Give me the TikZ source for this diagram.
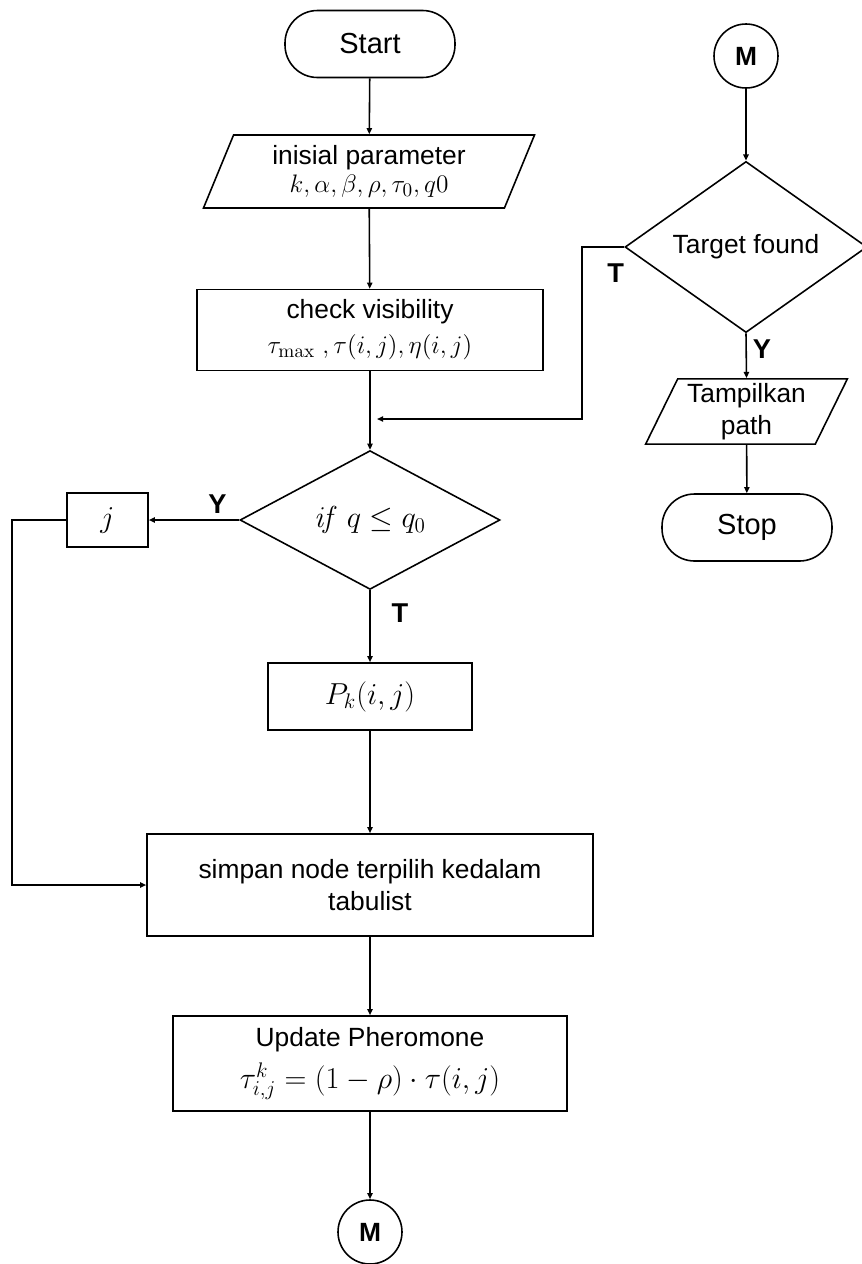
\documentclass[tikz,border=0pt]{standalone}
\usepackage{amsmath}
\usepackage[no-math]{fontspec}
\setmainfont{Liberation Sans}
\usetikzlibrary{arrows.meta, shapes.geometric, positioning, calc}

\begin{document}
\begin{tikzpicture}[font=\fontsize{15}{18}\selectfont, line width=0.9pt,
    arr/.style={-{Triangle[length=3.5pt,width=3pt]}},
    term/.style={draw, rectangle, rounded corners=0.65cm, minimum width=3.4cm, minimum height=1.34cm,
                 font=\fontsize{16.5}{19}\selectfont},
    io/.style={draw, trapezium, align=center, inner sep=0pt},
    proc/.style={draw, rectangle, align=center, inner sep=0pt},
    dec/.style={draw, diamond, align=center, inner sep=0pt},
    conn/.style={draw, circle, minimum size=1.28cm, inner sep=0pt, font=\fontsize{15}{18}\selectfont\bfseries},
    lbl/.style={font=\fontsize{15.5}{18}\selectfont\bfseries}]
      \useasboundingbox (0,0) rectangle (17.22,-25.28);

      % Main column
      \node[term] (start) at (7.4,-0.88) {Start};
      \node[io, trapezium left angle=67.6, trapezium right angle=112.4,
            minimum width=6.64cm, minimum height=1.46cm] (init) at (7.38,-3.43)
            {inisial parameter\\[-2pt]$k,\alpha,\beta,\rho,\tau_0,q0$};
      \node[proc, minimum width=6.92cm, minimum height=1.62cm] (vis) at (7.4,-6.6)
            {check visibility\\[2pt]$\tau_{\max}\ ,\tau(i,j),\eta(i,j)$};
      \node[dec, minimum width=5.2cm, minimum height=2.7cm,
            font=\fontsize{16.5}{19}\selectfont] (cond) at (7.4,-10.4)
            {$\mathit{if}\ q\le q_0$};
      \node[proc, minimum width=1.62cm, minimum height=1.08cm,
            font=\fontsize{16.5}{19}\selectfont] (jbox) at (2.15,-10.4) {$j$};
      \node[proc, minimum width=4.08cm, minimum height=1.34cm,
            font=\fontsize{16.5}{19}\selectfont] (prob) at (7.4,-13.93) {$P_k(i,j)$};
      \node[proc, minimum width=8.92cm, minimum height=2.04cm] (save) at (7.4,-17.7)
            {simpan node terpilih kedalam\\tabulist};
      \node[proc, minimum width=7.88cm, minimum height=1.9cm] (upd) at (7.4,-21.27)
            {Update Pheromone\\[6pt]{\fontsize{18}{20}\selectfont$\tau^{k}_{i,j}=(1-\rho)\cdot\tau(i,j)$}};
      \node[conn] (mout) at (7.4,-24.64) {M};

      % Right column
      \node[conn] (min) at (14.92,-1.12) {M};
      \node[dec, minimum width=4.84cm, minimum height=2.68cm] (found) at (14.92,-4.94) {Target found};
      \node[io, trapezium left angle=63.8, trapezium right angle=116.2,
            minimum width=4.04cm, minimum height=1.3cm] (show) at (14.93,-8.23)
            {Tampilkan\\path};
      \node[term] (stop) at (14.94,-10.55) {Stop};

      \coordinate (loopL) at (0.24,-17.7);
      \coordinate (tcorner) at (11.64,-4.94);
      \coordinate (merge) at (7.54,-8.38);

      % Connectors
      \draw[arr] (start) -- (init);
      \draw[arr] (init) -- (vis);
      \draw[arr] (vis) -- (cond);
      \draw[arr] (cond.west) -- (jbox.east) node[lbl, pos=0.24, above] {Y};
      \draw[arr] (jbox.west) -| (loopL) -- (save.west);
      \draw[arr] (cond.south) -- (prob.north) node[lbl, pos=0.32, right=0.3cm] {T};
      \draw[arr] (prob) -- (save);
      \draw[arr] (save) -- (upd);
      \draw[arr] (upd) -- (mout);

      \draw[arr] (min) -- (found);
      \draw[arr] (found.south) -- (show.north) node[lbl, pos=0.35, right] {Y};
      \draw[arr] (found.west) -- (tcorner) node[lbl, pos=0.2, below=0.2cm] {T} |- (merge);
      \draw[arr] (show) -- (stop);
\end{tikzpicture}
\end{document}
